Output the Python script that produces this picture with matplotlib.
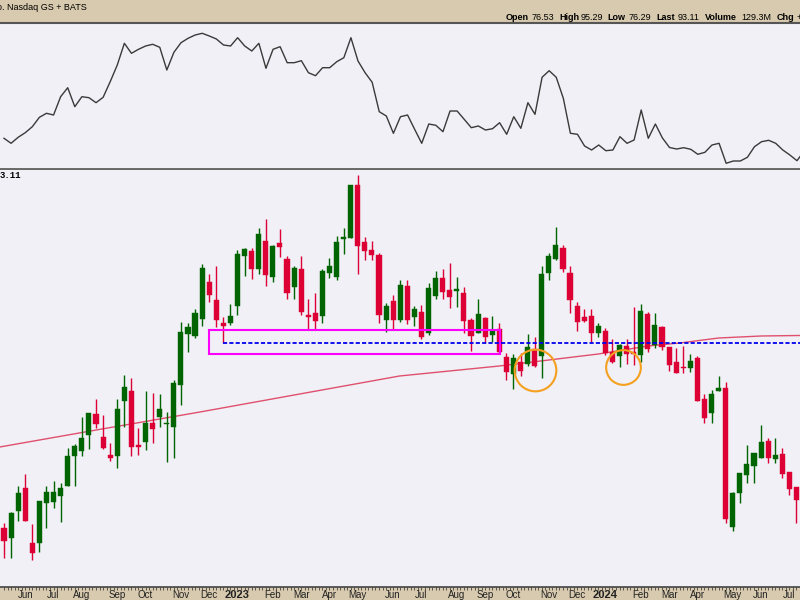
import matplotlib.pyplot as plt
import matplotlib.patches as mpatches
import numpy as np
import pandas as pd

plt.rcParams['font.family'] = ['Liberation Sans', 'DejaVu Sans']

# weekly bars, first bar = week of 16 May 2022
start_week = '2022-05-16'

opens = [72.3, 62.3, 89, 112.3, 57, 57, 97, 98, 104, 114,
         144, 149, 165, 186, 163, 145, 144, 199, 209, 155,
         158, 177, 183, 176, 173, 215, 266, 264, 281, 318,
         300, 277, 277, 294, 344, 349, 331, 359, 323, 357,
         341, 313, 331, 285, 287, 284, 327, 323, 361, 362,
         415, 358, 350, 345, 280, 299, 280, 314, 283, 288,
         267, 304, 322, 310, 309, 307, 280, 267, 282, 265,
         271, 243, 226, 238, 236, 251, 244, 327, 341, 352,
         327, 294, 283, 284, 267, 269, 248, 244, 254, 248,
         245, 286, 255, 273, 253, 238, 233, 232, 242, 201,
         187, 209, 212, 73, 107, 125, 134, 142, 159, 141,
         146, 128, 113]
highs = [77, 88, 114, 126, 76, 99, 114, 119, 117, 152,
         156, 183, 187, 201, 185, 157, 201, 225, 222, 172,
         209, 207, 206, 188, 220, 278, 277, 291, 336, 326,
         334, 283, 296, 350, 352, 352, 372, 381, 355, 371,
         344, 334, 344, 301, 307, 331, 342, 364, 372, 415,
         425, 363, 359, 347, 297, 305, 320, 320, 294, 295,
         317, 329, 331, 337, 323, 313, 282, 301, 283, 284,
         277, 247, 246, 247, 266, 263, 334, 347, 373, 355,
         334, 298, 291, 291, 277, 272, 261, 256, 261, 293,
         296, 288, 287, 274, 253, 252, 254, 246, 244, 206,
         210, 224, 218, 108, 127, 155, 147, 175, 162, 162,
         152, 128, 113]
lows = [42, 42, 79, 79, 40, 48, 72, 92, 78, 114,
        114, 144, 151, 172, 151, 139, 132, 173, 144, 145,
        150, 157, 173, 138, 142, 195, 248, 262, 274, 298,
        273, 257.3, 275, 285, 324, 321, 326, 314, 318, 343,
        301, 301, 285, 270, 270, 277, 322, 320, 346, 362,
        326, 340, 340, 277, 268, 271, 278, 276, 274, 261,
        265, 301, 301, 292, 293, 267, 249, 267, 258, 258,
        246, 220, 211, 224, 234, 233, 222, 320, 340, 328,
        287, 269, 278, 258, 263, 245, 237, 233, 236, 235,
        238, 248, 252, 250, 229, 227, 227, 228, 199, 177,
        177, 209, 77, 69, 97, 117, 117, 142, 137, 137,
        122, 105, 77]
closes = [59, 87.3, 107, 79, 47, 99, 108, 108, 112, 144,
          154, 162, 187, 176, 152, 142, 191, 213, 153, 153,
          177, 171, 191, 177, 217, 268, 273, 287, 332, 305,
          280, 274, 284, 346, 351, 331, 366, 325, 354, 353,
          307, 332, 288, 283, 279, 329, 334, 358, 363, 415,
          354, 349, 345, 285, 294, 280, 315, 280, 291, 263,
          312, 322, 308, 303, 311, 279, 264, 286, 263, 270,
          248, 228, 242, 229, 253, 234, 326, 344, 355, 331,
          300, 278, 279, 267, 274, 247, 238, 255, 246, 246,
          289, 251, 275, 253, 235, 227, 232, 239, 199, 182,
          206, 212, 81, 107, 127, 136, 147, 158, 142, 145,
          126, 111, 100]

# upper indicator panel, one value per week (last point runs just past the edge)
indicator = [29.7, 24.7, 30.7, 35.3, 41.3, 50.7, 54.7, 53, 71.3, 80.3,
             61.3, 71.3, 70.3, 65.3, 70.7, 86.3, 103, 124.7, 114.7, 118.7,
             122, 123.7, 120.7, 98, 115.7, 125.3, 129.7, 133, 134.7, 132,
             129, 123, 122, 130.3, 122, 117, 124.7, 99.7, 118.7, 121.3,
             105.3, 105.3, 107.3, 95.3, 92.3, 100.3, 100.3, 106.3, 110.3, 130.3,
             107, 95.3, 85.7, 56.3, 52, 34.7, 51.3, 53, 38.7, 24.7,
             44, 42.7, 36.3, 57, 57, 48.7, 40.3, 42, 38, 39.3,
             45.3, 33.7, 51.3, 39.7, 65.3, 53.7, 90.7, 97.3, 90.7, 69.7,
             34.7, 33.7, 22, 18, 23, 17.3, 18, 31.3, 24.7, 28,
             58, 29.7, 44, 30, 20.5, 19, 20.3, 18.7, 13.7, 15.7,
             23, 24.7, 4.7, 7, 7, 10.7, 21.3, 26.3, 27.7, 24.7,
             18, 13, 7.3, 16.7]

# long moving average, read at a few bar positions
ma_idx = [-0.6, 13.6, 27.7, 55.9, 70, 77, 84, 91, 95.5, 101, 107, 112.4]
ma_val = [153, 170.7, 188, 224, 234, 240, 246, 254, 257, 262, 264, 264.5]

# annotations
support_level = 257.3
support_start = 31
box_x = [28.95, 70.06]
box_y = [245.7, 269.7]
circle_idx = [75.0, 87.5]
circle_val = [230.3, 233]

header_left = 'o. Nasdaq GS + BATS'
header_labels = ['Open', 'High', 'Low', 'Last', 'Volume', 'Chg']
header_values = ['76.53', '95.29', '76.29', '93.11', '129.3M', '+']

tan = '#D8CAAE'
panel_bg = '#F0F0F6'
green = '#006400'
red = '#DC0035'

W, H = 800, 600


def box(x0, y0, x1, y1):
    return [x0 / W, 1 - y1 / H, (x1 - x0) / W, (y1 - y0) / H]


fig = plt.figure(figsize=(8, 6), dpi=100)
fig.patch.set_facecolor(tan)

n = len(opens)
x = np.arange(n)
xmin = -4 / 7.08
xmax = xmin + W / 7.08

# upper panel
ax_top = fig.add_axes(box(0, 23, 800, 169))
ax_top.set_facecolor(panel_bg)
ax_top.plot(np.arange(len(indicator)), indicator, color='#3a3a3a', lw=1)
ax_top.set_xlim(xmin, xmax)
ax_top.set_ylim(-1, 145)
ax_top.set_xticks([])
ax_top.set_yticks([])
for s in ['left', 'right']:
    ax_top.spines[s].set_visible(False)
ax_top.spines['top'].set_color('#555555')
ax_top.spines['top'].set_linewidth(1.5)
ax_top.spines['bottom'].set_color('#555555')
ax_top.spines['bottom'].set_linewidth(1.2)

# main price panel
ax = fig.add_axes(box(0, 170, 800, 587))
ax.set_facecolor(panel_bg)

o = np.array(opens)
h = np.array(highs)
l = np.array(lows)
c = np.array(closes)
up = c >= o
colors = np.where(up, green, red)

ax.plot(ma_idx, ma_val, color='#E0506E', lw=1, zorder=1)
ax.vlines(x, l, h, colors=colors, lw=1, zorder=2)
body_bottom = np.minimum(o, c)
body_height = np.maximum(np.abs(c - o), 1.5)
ax.bar(x, body_height, width=0.72, bottom=body_bottom, color=colors,
       edgecolor=colors, lw=0.3, zorder=2)

ax.add_patch(mpatches.Rectangle((box_x[0], box_y[0]), box_x[1] - box_x[0],
                                box_y[1] - box_y[0], fill=False,
                                edgecolor='#FF00FF', lw=1.5, zorder=3))
ax.plot([support_start, xmax], [support_level, support_level], color='#0000EE',
        lw=1.3, dashes=(2.3, 1.2), zorder=3)
ax.plot(circle_idx[0], circle_val[0], 'o', mfc='none', mec='#F5A01E', mew=1.5,
        ms=30, zorder=3)
ax.plot(circle_idx[1], circle_val[1], 'o', mfc='none', mec='#F5A01E', mew=1.5,
        ms=25, zorder=3)

ax.set_xlim(xmin, xmax)
ax.set_ylim(13, 430)
ax.set_yticks([])
for s in ['left', 'right', 'top']:
    ax.spines[s].set_visible(False)
ax.spines['bottom'].set_color('#444444')
ax.spines['bottom'].set_linewidth(1.2)

# month labels at first weekly bar of each month
dates = pd.date_range(start_week, periods=n, freq='7D')
ticks, labels = [], []
for i in range(1, n):
    if dates[i].month != dates[i - 1].month:
        ticks.append(i)
        labels.append(str(dates[i].year) if dates[i].month == 1 else dates[i].strftime('%b'))
ax.set_xticks(ticks)
ax.set_xticklabels(labels, fontsize=7, color='#222222')
for t in ax.get_xticklabels():
    if t.get_text().isdigit():
        t.set_fontweight('bold')
        t.set_fontsize(8)
ax.set_xticks(np.arange(0, n, 0.5), minor=True)
ax.tick_params(axis='x', which='both', direction='out', length=2, width=0.6,
               color='#444444', pad=0.5)

# header texts
fig.text(-3 / W, 1 - 7.5 / H, header_left, fontsize=6.5, va='center', ha='left')
label_x = [506, 559, 607, 656, 705, 777]
value_x = [532, 581, 629, 678, 741, 797]
for lab, lx, val, vx in zip(header_labels, label_x, header_values, value_x):
    fig.text(lx / W, 1 - 17.5 / H, lab, fontsize=6.5, fontweight='bold', va='center')
    fig.text(vx / W, 1 - 17.5 / H, val, fontsize=6.5, va='center')

fig.text(0, 1 - 175.5 / H, '3.11', fontsize=6.5, fontweight='bold',
         family='Liberation Mono', va='center')

fig.savefig('out.png', dpi=100, facecolor=fig.get_facecolor())
